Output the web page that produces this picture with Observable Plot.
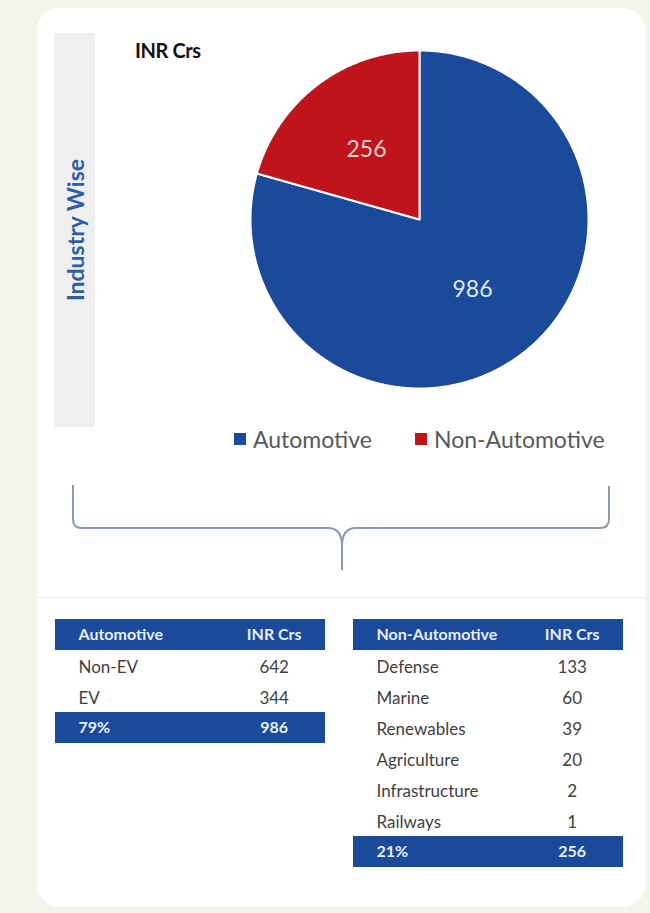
<!DOCTYPE html>
<html>
<head>
<meta charset="utf-8">
<script src="https://cdn.jsdelivr.net/npm/d3@7"></script>
<script src="https://cdn.jsdelivr.net/npm/@observablehq/plot@0.6"></script>
<style>
  html, body { margin: 0; padding: 0; }
  body { width: 650px; height: 913px; background: #f3f4ea; font-family: Lato, "Open Sans", sans-serif; }
  #page { position: relative; width: 650px; height: 913px; overflow: hidden; background: #f3f4ea; }
  .abs { position: absolute; }
  #card { left: 37px; top: 8px; width: 608px; height: 899px; background: #ffffff; border-radius: 22px; }
  #band { left: 54px; top: 33px; width: 41px; height: 394px; background: #efefef; }
  #bandText { position: absolute; left: 50%; top: 50%; transform: translate(-50%, -50%) rotate(-90deg); white-space: nowrap;
              font-size: 23px; font-weight: 700; color: #2f5ea7; }
  #unit { left: 135px; top: 38px; font-size: 20px; font-weight: 700; color: #111; letter-spacing: -0.4px; }
  #sep { left: 37px; top: 597px; width: 608px; height: 1px; background: #ececec; }
  #legend { left: 0; top: 424px; width: 650px; height: 30px; }
  .lg-item { position: absolute; top: 0; display: flex; align-items: center; height: 30px; font-size: 23px; color: #595959; }
  .lg-sw { width: 12px; height: 12px; margin-right: 7px; }
  svg { overflow: visible; }
</style>
</head>
<body>
<div id="page">
  <div id="card" class="abs"></div>
  <div id="band" class="abs"><div id="bandText"></div></div>
  <div id="unit" class="abs"></div>
  <div id="pie" class="abs" style="left:244px; top:44px;"></div>
  <div id="legend" class="abs"></div>
  <svg class="abs" style="left:0;top:0" width="650" height="913" id="brace">
    <path d="M73,485 L73,519 Q73,528 82,528 L328,528 Q342,528 342,546 L342,570 M342,546 Q342,528 356,528 L600,528 Q609,528 609,519 L609,486"
          fill="none" stroke="#8a9ab0" stroke-width="2"/>
  </svg>
  <div id="sep" class="abs"></div>
  <div id="tblA" class="abs" style="left:55px; top:619px;"></div>
  <div id="tblB" class="abs" style="left:353px; top:619px;"></div>
</div>
<script>
// ---------- data ----------
const sectionTitle = "Industry Wise";
const unitLabel = "INR Crs";
const industries = ["Automotive", "Non-Automotive"];
const industryValues = [986, 256];
const industryColors = ["#1b4a9b", "#c0141c"];
const pieLabelColors = ["#dfe6f5", "#f6d2d2"];
const autoItems = ["Non-EV", "EV"];
const autoValues = [642, 344];
const nonAutoItems = ["Defense", "Marine", "Renewables", "Agriculture", "Infrastructure", "Railways"];
const nonAutoValues = [133, 60, 39, 20, 2, 1];

// ---------- headings ----------
document.getElementById("bandText").textContent = sectionTitle;
document.getElementById("unit").textContent = unitLabel;

// ---------- pie ----------
const industryData = industries.map((name, i) => ({name, value: industryValues[i], labelColor: pieLabelColors[i]}));
const arcs = d3.pie().sort(null).value(d => d.value)(industryData);
const slicePoints = arcs.flatMap(a => {
  const name = a.data.name;
  const n = Math.max(2, Math.ceil((a.endAngle - a.startAngle) / (Math.PI / 360)));
  const pts = [{name, x: 0, y: 0}];
  for (let i = 0; i <= n; i++) {
    const t = a.startAngle + (a.endAngle - a.startAngle) * i / n;
    pts.push({name, x: Math.sin(t), y: Math.cos(t)});
  }
  pts.push({name, x: 0, y: 0});
  return pts;
});
const sliceLabels = arcs.map(a => {
  const m = (a.startAngle + a.endAngle) / 2;
  return {name: a.data.name, text: String(a.data.value), color: a.data.labelColor, x: 0.52 * Math.sin(m), y: 0.52 * Math.cos(m)};
});
const R = 175 / 169;
const pie = Plot.plot({
  width: 350, height: 350, margin: 0,
  style: {background: "transparent", fontFamily: "Lato, sans-serif"},
  x: {domain: [-R, R], axis: null},
  y: {domain: [-R, R], axis: null},
  color: {domain: industries, range: industryColors},
  marks: [
    Plot.line(slicePoints, {x: "x", y: "y", z: "name", fill: "name", stroke: "white", strokeWidth: 2, curve: "linear"}),
    Plot.text(sliceLabels.filter(d => d.name === industries[0]), {x: "x", y: "y", text: "text", fill: pieLabelColors[0], fontSize: 23}),
    Plot.text(sliceLabels.filter(d => d.name === industries[1]), {x: "x", y: "y", text: "text", fill: pieLabelColors[1], fontSize: 23})
  ]
});
document.getElementById("pie").appendChild(pie);

// legend from the pie's color scale
const cs = pie.scale("color");
const legend = document.getElementById("legend");
const legendX = [234, 415];
cs.domain.forEach((name, i) => {
  const item = document.createElement("div");
  item.className = "lg-item";
  item.style.left = legendX[i] + "px";
  const sw = document.createElement("span");
  sw.className = "lg-sw";
  sw.style.background = cs.range[i];
  const tx = document.createElement("span");
  tx.textContent = name;
  item.appendChild(sw); item.appendChild(tx);
  legend.appendChild(item);
});

// ---------- tables ----------
const total = d3.sum(industryValues);
const pct = d3.format(".0%");
function makeTable(title, items, values, totalValue) {
  const rows = [
    {key: "h", label: title, value: unitLabel, kind: "head"},
    ...items.map((d, i) => ({key: "r" + i, label: d, value: String(values[i]), kind: "body"})),
    {key: "t", label: pct(totalValue / total), value: String(totalValue), kind: "head"}
  ];
  const heads = rows.filter(d => d.kind === "head");
  const body = rows.filter(d => d.kind === "body");
  return Plot.plot({
    width: 270, height: rows.length * 31, margin: 0,
    style: {background: "transparent", fontFamily: "Lato, sans-serif"},
    x: {domain: [0, 1], axis: null},
    y: {domain: rows.map(d => d.key), axis: null, padding: 0},
    marks: [
      Plot.barX(heads, {x1: 0, x2: 1, y: "key", fill: industryColors[0]}),
      Plot.text(heads, {x: 0, y: "key", text: "label", textAnchor: "start", dx: 23, fill: "#e8eefa", fontWeight: "bold", fontSize: 16}),
      Plot.text(heads, {x: 0.81, y: "key", text: "value", fill: "#e8eefa", fontWeight: "bold", fontSize: 16}),
      Plot.text(body, {x: 0, y: "key", text: "label", textAnchor: "start", dx: 23, dy: 2, fill: "#3f3f3f", fontSize: 17}),
      Plot.text(body, {x: 0.81, y: "key", text: "value", dy: 2, fill: "#3f3f3f", fontSize: 17})
    ]
  });
}
document.getElementById("tblA").appendChild(makeTable(industries[0], autoItems, autoValues, industryValues[0]));
document.getElementById("tblB").appendChild(makeTable(industries[1], nonAutoItems, nonAutoValues, industryValues[1]));
</script>
</body>
</html>
